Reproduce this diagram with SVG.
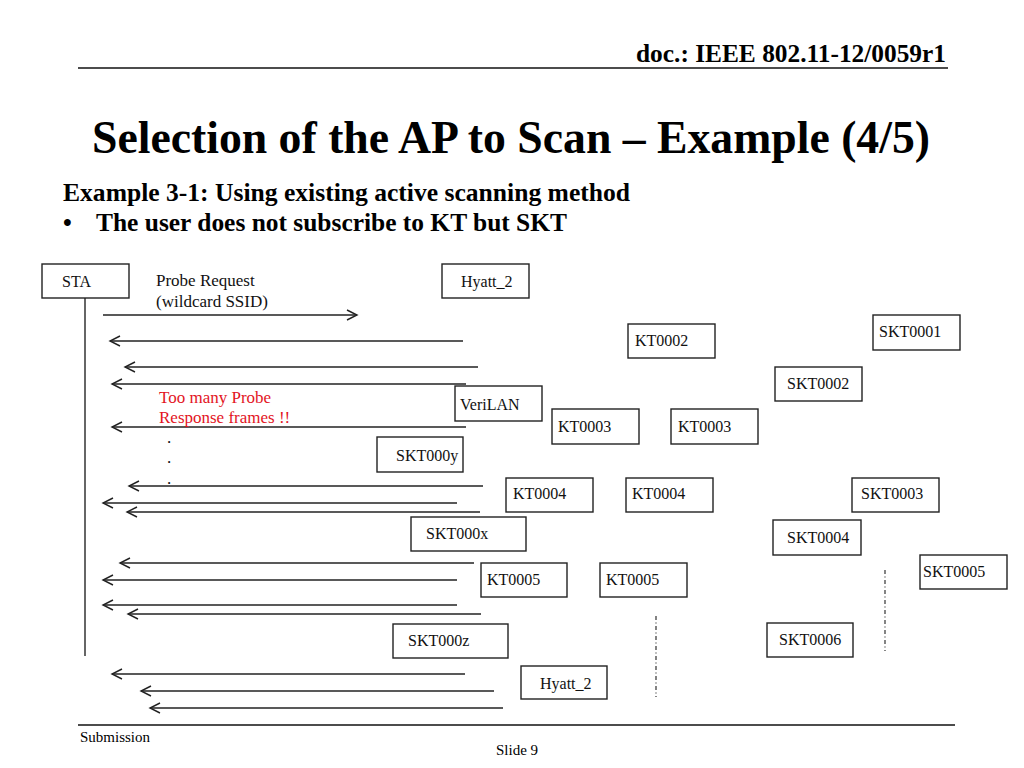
<svg xmlns="http://www.w3.org/2000/svg" width="1024" height="768" viewBox="0 0 1024 768">
<defs>
<style>
.t{font-family:"Liberation Serif","Times New Roman",serif;fill:#000}
.box rect{fill:#fff;stroke:#222;stroke-width:1.4}
.box text{font-family:"Liberation Serif","Times New Roman",serif;font-size:16px;fill:#111}
.msg{font-family:"Liberation Serif","Times New Roman",serif;font-size:17px;fill:#111}
.red{font-family:"Liberation Serif","Times New Roman",serif;font-size:17px;fill:#e3141e}
.arr line{stroke:#222;stroke-width:1.4;marker-end:url(#ah)}
.rule{stroke:#111;stroke-width:1.5}
.dd{stroke:#333;stroke-width:1.2;stroke-dasharray:4 2.5 1 2.5;fill:none}
</style>
<marker id="ah" viewBox="-12 -7 14 14" refX="0" refY="0" markerWidth="14" markerHeight="14" markerUnits="userSpaceOnUse" orient="auto">
<path d="M-10,-5 L0,0 L-10,5" fill="none" stroke="#222" stroke-width="1.4"/>
</marker>
</defs>
<rect width="1024" height="768" fill="#fff"/>

<g id="header">
<text class="t" font-weight="700" x="946" y="62" font-size="25" text-anchor="end" textLength="310" lengthAdjust="spacingAndGlyphs">doc.: IEEE 802.11-12/0059r1</text>
<line class="rule" x1="78" y1="68" x2="948" y2="68"/>
<text class="t" font-weight="700" x="92" y="153" font-size="46" textLength="838" lengthAdjust="spacingAndGlyphs">Selection of the AP to Scan – Example (4/5)</text>
<text class="t" font-weight="700" x="63" y="201" font-size="25" textLength="567" lengthAdjust="spacingAndGlyphs">Example 3-1: Using existing active scanning method</text>
<text class="t" font-weight="700" x="63" y="231" font-size="25">•</text>
<text class="t" font-weight="700" x="96" y="231" font-size="25" textLength="471" lengthAdjust="spacingAndGlyphs">The user does not subscribe to KT but SKT</text>
</g>

<g id="footer">
<line class="rule" x1="78" y1="725" x2="955" y2="725"/>
<text class="t" x="80" y="742" font-size="15">Submission</text>
<text class="t" x="517" y="755" font-size="15" text-anchor="middle">Slide 9</text>
</g>

<g id="connectors">
<line x1="85" y1="298" x2="85" y2="656" stroke="#333" stroke-width="1.5"/>
<g class="arr">
<line x1="103" y1="315" x2="357" y2="315"/>
<line x1="463" y1="341" x2="110" y2="341"/>
<line x1="478" y1="367" x2="125" y2="367"/>
<line x1="466" y1="384" x2="112" y2="384"/>
<line x1="466" y1="427" x2="112" y2="427"/>
<line x1="483" y1="486" x2="129" y2="486"/>
<line x1="457" y1="503" x2="103" y2="503"/>
<line x1="480" y1="512" x2="127" y2="512"/>
<line x1="474" y1="563" x2="120" y2="563"/>
<line x1="457" y1="580" x2="103" y2="580"/>
<line x1="457" y1="605" x2="103" y2="605"/>
<line x1="481" y1="614" x2="128" y2="614"/>
<line x1="465" y1="674" x2="112" y2="674"/>
<line x1="494" y1="691" x2="141" y2="691"/>
<line x1="503" y1="708" x2="150" y2="708"/>
</g>
<path class="dd" d="M656,616 V697"/>
<path class="dd" d="M885,570 V651"/>
</g>

<g id="labels">
<text class="msg" x="156" y="286">Probe Request</text>
<text class="msg" x="156" y="307">(wildcard SSID)</text>
<text class="red" x="159" y="403">Too many Probe</text>
<text class="red" x="159" y="423">Response frames !!</text>
<text class="msg" x="167" y="443">.</text>
<text class="msg" x="167" y="463">.</text>
<text class="msg" x="167" y="484">.</text>
</g>

<g id="STA" class="box"><rect x="42" y="264" width="87" height="34"/><text x="62" y="287">STA</text></g>
<g id="Hyatt_2_top" class="box"><rect x="442" y="264" width="87" height="34"/><text x="461" y="287">Hyatt_2</text></g>
<g id="KT0002" class="box"><rect x="628" y="324" width="87" height="34"/><text x="635" y="346">KT0002</text></g>
<g id="SKT0001" class="box"><rect x="873" y="315" width="87" height="35"/><text x="879" y="337">SKT0001</text></g>
<g id="SKT0002" class="box"><rect x="775" y="367" width="87" height="34"/><text x="787" y="389">SKT0002</text></g>
<g id="VeriLAN" class="box"><rect x="455" y="386" width="87" height="35"/><text x="460" y="410">VeriLAN</text></g>
<g id="KT0003a" class="box"><rect x="552" y="409" width="87" height="35"/><text x="558" y="432">KT0003</text></g>
<g id="KT0003b" class="box"><rect x="671" y="409" width="87" height="35"/><text x="678" y="432">KT0003</text></g>
<g id="SKT000y" class="box"><rect x="377" y="437" width="86" height="35"/><text x="396" y="461">SKT000y</text></g>
<g id="KT0004a" class="box"><rect x="506" y="478" width="87" height="34"/><text x="513" y="499">KT0004</text></g>
<g id="KT0004b" class="box"><rect x="626" y="478" width="87" height="34"/><text x="632" y="499">KT0004</text></g>
<g id="SKT0003" class="box"><rect x="852" y="478" width="87" height="34"/><text x="861" y="499">SKT0003</text></g>
<g id="SKT000x" class="box"><rect x="411" y="517" width="115" height="34"/><text x="426" y="539">SKT000x</text></g>
<g id="SKT0004" class="box"><rect x="773" y="520" width="88" height="35"/><text x="787" y="543">SKT0004</text></g>
<g id="SKT0005" class="box"><rect x="920" y="555" width="87" height="34"/><text x="923" y="577">SKT0005</text></g>
<g id="KT0005a" class="box"><rect x="481" y="563" width="86" height="34"/><text x="487" y="585">KT0005</text></g>
<g id="KT0005b" class="box"><rect x="600" y="563" width="87" height="34"/><text x="606" y="585">KT0005</text></g>
<g id="SKT000z" class="box"><rect x="393" y="624" width="115" height="34"/><text x="408" y="646">SKT000z</text></g>
<g id="SKT0006" class="box"><rect x="767" y="623" width="86" height="34"/><text x="779" y="645">SKT0006</text></g>
<g id="Hyatt_2_bottom" class="box"><rect x="521" y="666" width="86" height="33"/><text x="540" y="689">Hyatt_2</text></g>
</svg>
